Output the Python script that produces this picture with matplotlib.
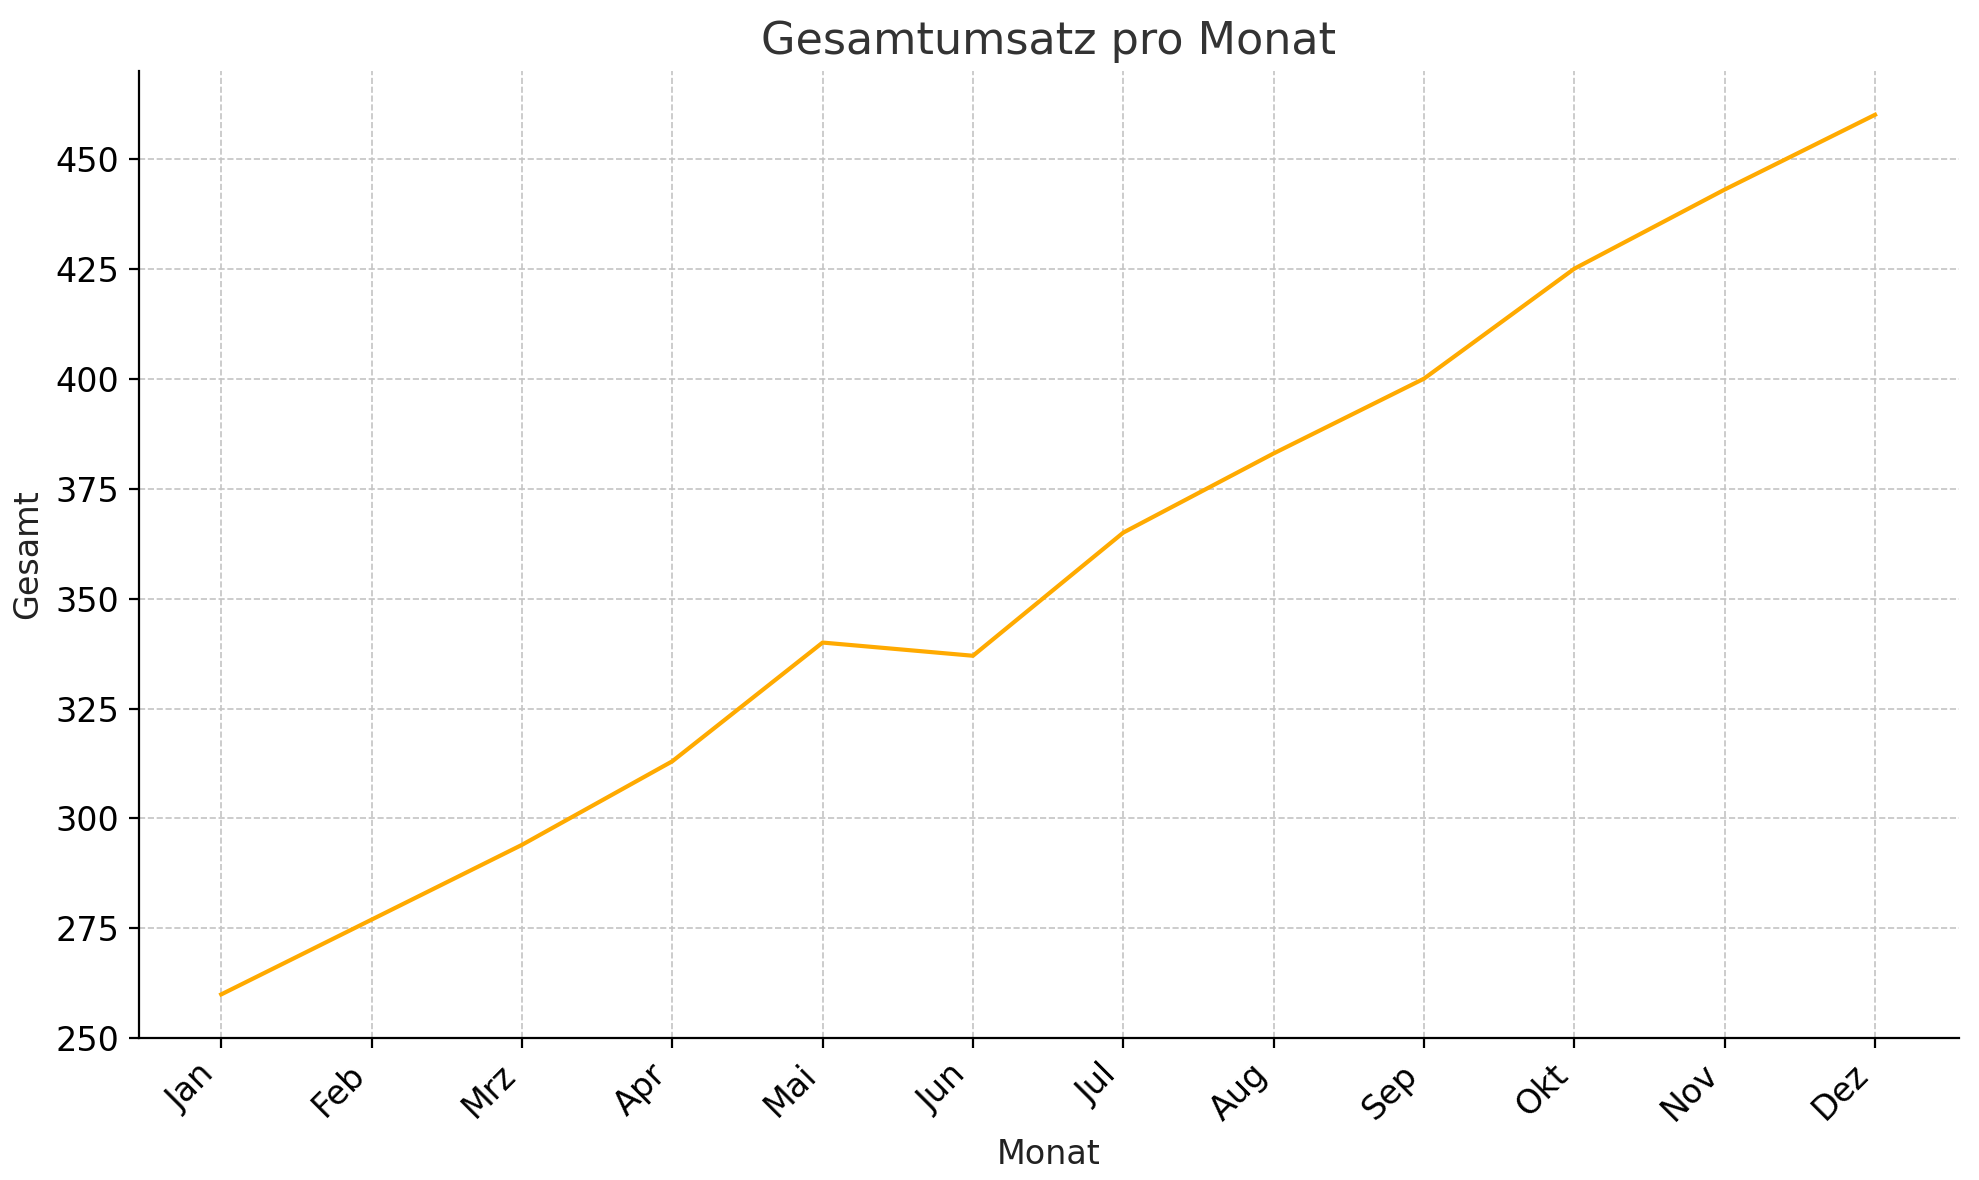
import matplotlib.pyplot as plt

# Monatsdaten
monate = ["Jan", "Feb", "Mrz", "Apr", "Mai", "Jun", "Jul", "Aug", "Sep", "Okt", "Nov", "Dez"]
gesamt = [260, 277, 294, 313, 340, 337, 365, 383, 400, 425, 443, 460]

fig = plt.figure(figsize=(9.895, 5.9), dpi=200)
ax = fig.add_axes([0.070, 0.12, 0.920, 0.82])

ax.plot(range(len(monate)), gesamt, color="#FFAA00", linewidth=1.5)

ax.set_xlim(-0.55, 11.56)
ax.set_ylim(250, 470)
ax.set_xticks(range(len(monate)))
ax.set_xticklabels(monate, rotation=45, ha="right", fontsize=12)
ax.tick_params(axis="y", labelsize=12)
ax.set_yticks(range(250, 451, 25))

ax.set_title("Gesamtumsatz pro Monat", fontsize=16, color="#333333")
ax.set_xlabel("Monat", fontsize=12, color="#222222")
ax.set_ylabel("Gesamt", fontsize=12, color="#222222")

ax.grid(True, linestyle="--", color="#c4c4c4", linewidth=0.6)
ax.spines["top"].set_visible(False)
ax.spines["right"].set_visible(False)

fig.savefig("out.png", dpi=200)
